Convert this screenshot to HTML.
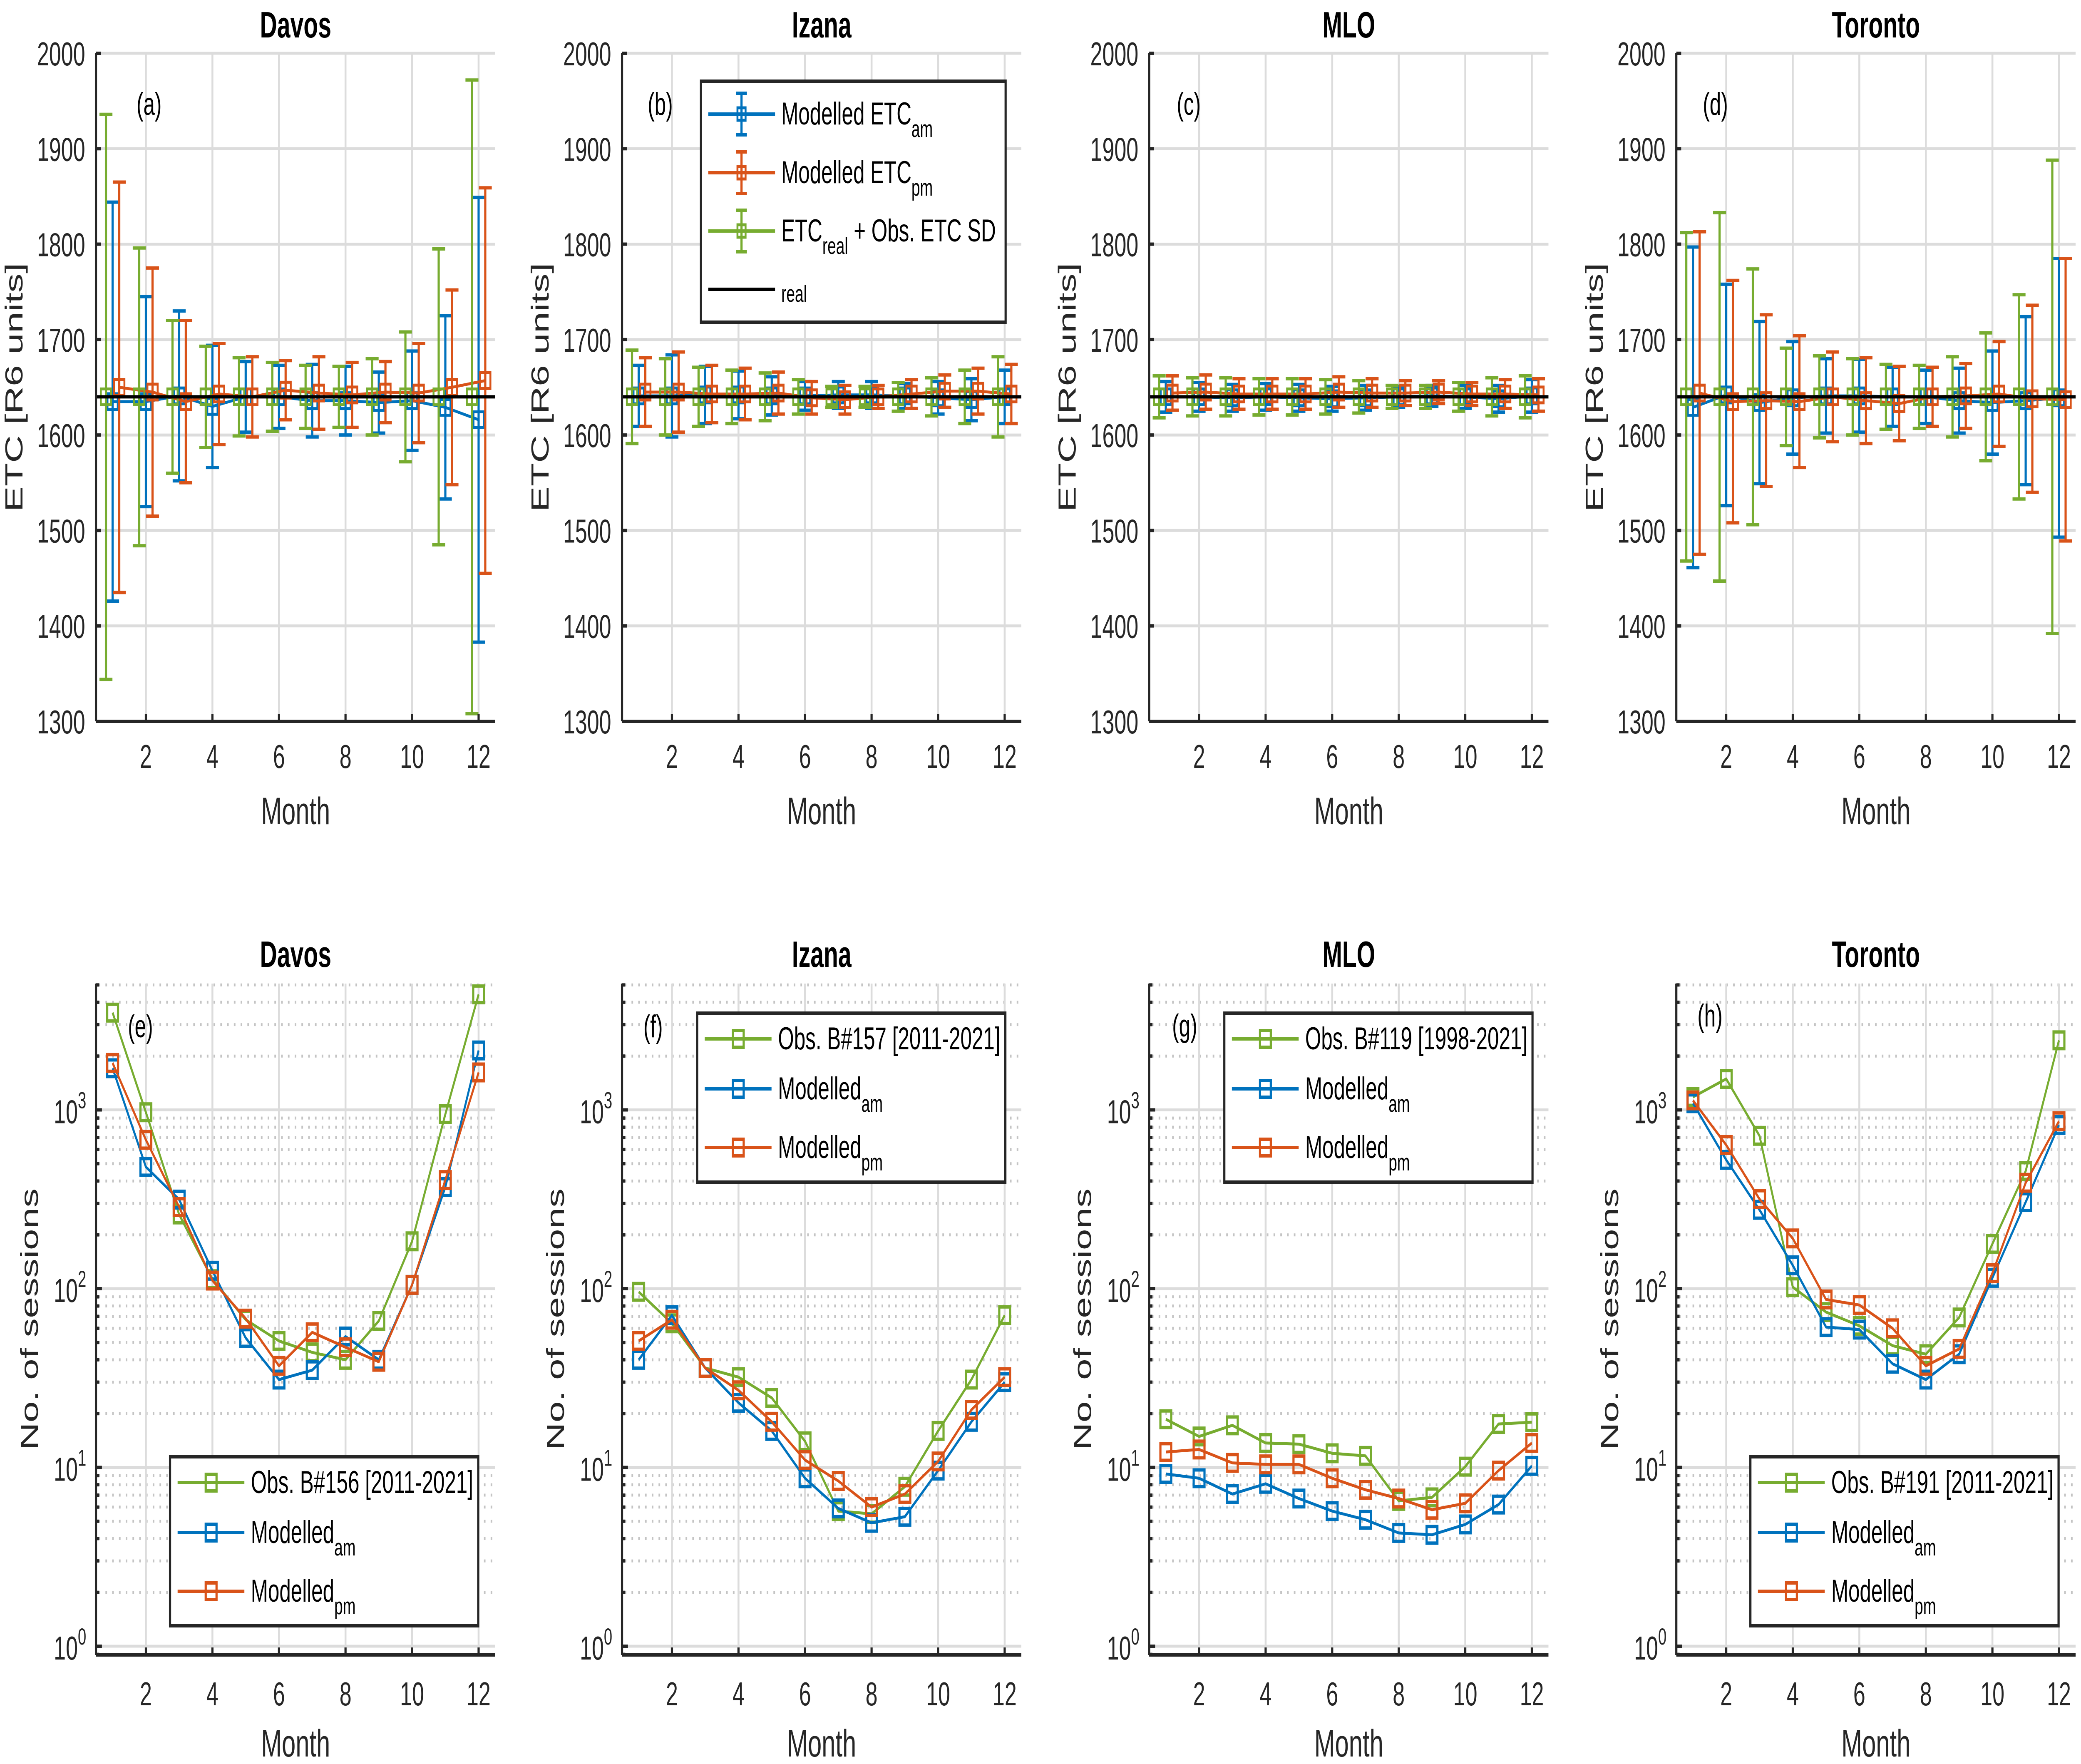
<!DOCTYPE html>
<html><head><meta charset="utf-8"><style>
html,body{margin:0;padding:0;background:#fff;overflow:hidden;}
svg{display:block;position:absolute;left:0;top:0;width:100vw;height:100vh;font-family:"Liberation Sans",Arial,sans-serif;}
</style></head>
<body>
<svg id="fig" xmlns="http://www.w3.org/2000/svg" viewBox="0 0 7698 4238" preserveAspectRatio="none"></svg>
<script>
// ---------- data ----------
const months = [1,2,3,4,5,6,7,8,9,10,11,12];
const etcReal = 1640;
const topTicks = [1300,1400,1500,1600,1700,1800,1900,2000];
const monthTicks = [2,4,6,8,10,12];
const stations = ['Davos','Izana','MLO','Toronto'];
const topLetters = ['(a)','(b)','(c)','(d)'];
const botLetters = ['(e)','(f)','(g)','(h)'];
const obsLabels = ['Obs. B#156 [2011-2021]','Obs. B#157 [2011-2021]','Obs. B#119 [1998-2021]','Obs. B#191 [2011-2021]'];

const davosObsSD = [296,156,80,53,41,36,33,32,40,68,155,332];
const davosAmMean = [1635,1635,1641,1630,1640,1640,1636,1636,1634,1636,1629,1616];
const davosAmErr = [209,110,89,64,37,33,38,36,32,52,96,233];
const davosPmMean = [1650,1645,1635,1643,1640,1647,1644,1642,1645,1644,1650,1657];
const davosPmErr = [215,130,85,53,42,31,38,34,32,52,102,202];

const izanaObsSD = [49,40,31,28,25,18,11,11,15,20,28,42];
const izanaAmMean = [1641,1641,1642,1642,1641,1641,1642,1642,1641,1639,1637,1640];
const izanaAmErr = [32,43,30,25,20,15,14,14,13,17,22,28];
const izanaPmMean = [1645,1645,1643,1643,1644,1639,1637,1640,1643,1646,1646,1643];
const izanaPmErr = [36,42,30,27,22,17,15,12,15,17,24,31];

const mloObsSD = [22,20,20,19,19,18,17,12,12,15,20,22];
const mloAmMean = [1640,1640,1639,1640,1639,1638,1639,1640,1641,1640,1638,1641];
const mloAmErr = [16,15,14,14,14,13,13,11,11,12,14,17];
const mloPmMean = [1644,1645,1643,1643,1643,1645,1644,1644,1645,1643,1643,1642];
const mloPmErr = [18,18,16,16,16,16,15,13,12,12,15,17];

const torontoObsSD = [172,193,134,51,43,40,34,33,42,67,107,248];
const torontoAmMean = [1629,1642,1634,1639,1641,1641,1640,1640,1636,1634,1636,1639];
const torontoAmErr = [168,116,85,59,39,38,31,28,34,54,88,146];
const torontoPmMean = [1644,1635,1636,1635,1640,1636,1633,1640,1641,1643,1638,1637];
const torontoPmErr = [169,127,90,69,47,45,39,31,34,55,98,148];

const davosObsN = [3500,970,260,113,67,51,44,40,66,184,946,4430];
const davosAmN = [1710,480,315,126,53,31,35,54,40,105,370,2150];
const davosPmN = [1830,680,286,111,68,37,57,47,39,105,405,1620];

const izanaObsN = [96,64,36,32,24.5,14,5.7,5.5,7.8,16,31,71];
const izanaAmN = [40,71,36,23,16,8.7,5.9,4.9,5.3,9.6,18,30];
const izanaPmN = [51,67,36,27,18,11,8.4,6,7.1,10.8,21,32];

const mloObsN = [18.6,14.9,17.2,13.7,13.5,12.0,11.6,6.5,6.8,10.1,17.5,17.9];
const mloAmN = [9.2,8.7,7.1,8.1,6.7,5.7,5.1,4.3,4.2,4.8,6.2,10.2];
const mloPmN = [12.2,12.6,10.6,10.4,10.4,8.7,7.5,6.7,5.8,6.3,9.6,13.7];

const torontoObsN = [1180,1490,716,102,74,62,48,43,69,178,455,2450];
const torontoAmN = [1090,525,276,135,61,59,38,31,43,115,305,823];
const torontoPmN = [1130,636,317,191,87,81,60,37,46,122,391,864];

const etcSets = [
  [davosObsSD,davosAmMean,davosAmErr,davosPmMean,davosPmErr],
  [izanaObsSD,izanaAmMean,izanaAmErr,izanaPmMean,izanaPmErr],
  [mloObsSD,mloAmMean,mloAmErr,mloPmMean,mloPmErr],
  [torontoObsSD,torontoAmMean,torontoAmErr,torontoPmMean,torontoPmErr]
];
const countSets = [
  [davosObsN,davosAmN,davosPmN],
  [izanaObsN,izanaAmN,izanaPmN],
  [mloObsN,mloAmN,mloPmN],
  [torontoObsN,torontoAmN,torontoPmN]
];

// ---------- layout ----------
const NS = 'http://www.w3.org/2000/svg';
const svg = document.getElementById('fig');
const BLUE='#0072BD', ORANGE='#D95319', GREEN='#77AC30', AX='#262626', GRID='#dcdcdc', MGRID='#c4c4c4';
const LEFTS = [355,2301,4251,6201];
const W = 1477;
const TT = 128, TB = 1733;
const BT = 2363, BB = 3976;
const LOG0 = 3955, DEC = 429.5;

function el(tag, attrs, parent, name){
  const e = document.createElementNS(NS, tag);
  for (const k in attrs) e.setAttribute(k, attrs[k]);
  
  
  parent.appendChild(e);
  return e;
}
function txt(x,y,s,size,parent,name,extra){
  const a = Object.assign({x:x,y:y,'font-size':size,fill:AX}, extra||{});
  const t = el('text', a, parent, name);
  t.textContent = s;
  return t;
}
function subText(x,y,main,sub,rest,size,parent,name){
  const t = el('text',{x:x,y:y,'font-size':size,fill:'#000'},parent,name);
  if (main){ const a=document.createElementNS(NS,'tspan'); a.textContent=main; t.appendChild(a); }
  if (sub){ const b=document.createElementNS(NS,'tspan'); b.setAttribute('dy','30'); b.setAttribute('font-size',size*0.75); b.textContent=sub; t.appendChild(b); }
  if (rest){ const c=document.createElementNS(NS,'tspan'); c.setAttribute('dy','-30'); c.textContent=' '+rest; t.appendChild(c); }
  return t;
}
function xScale(L){ return m => L + (m-0.5)/12*W; }
const yTop = v => TT + (2000 - v)/700*(TB-TT);
const yLog = v => LOG0 - Math.log10(v)*DEC;

function square(cx,cy,s,color,g,name,sw){
  el('rect',{x:cx-s/2,y:cy-s/2,width:s,height:s,fill:'none',stroke:color,'stroke-width':sw||7},g,name);
}
function polyline(xs,ys,color,g,name){
  let d='';
  for (let i=0;i<xs.length;i++) d += (i?'L':'M')+xs[i].toFixed(1)+' '+ys[i].toFixed(1);
  el('path',{d:d,fill:'none',stroke:color,'stroke-width':7,'stroke-linejoin':'round'},g,name);
}

function xAxis(g,L,bottom,labelY,monthY){
  const sx = xScale(L);
  el('line',{x1:L,y1:bottom,x2:L+W,y2:bottom,stroke:AX,'stroke-width':8},g,'x-axis-line');
  monthTicks.forEach(m=>{
    el('line',{x1:sx(m),y1:bottom,x2:sx(m),y2:bottom-18,stroke:AX,'stroke-width':8},g,'x-tick');
    txt(sx(m),labelY,String(m),80,g,'x-tick-label',{'text-anchor':'middle'});
  });
  txt(L+W/2,monthY,'Month',92,g,'x-axis-title',{'text-anchor':'middle'});
}

for (let p=0;p<4;p++){
  const L = LEFTS[p], sx = xScale(L);
  const g = el('g',{},svg,'etc-panel-'+stations[p].toLowerCase());
  const [sd,amM,amE,pmM,pmE] = etcSets[p];
  topTicks.forEach(v=>el('line',{x1:L,y1:yTop(v),x2:L+W,y2:yTop(v),stroke:GRID,'stroke-width':7},g,'y-grid-line'));
  monthTicks.forEach(m=>el('line',{x1:sx(m),y1:TT,x2:sx(m),y2:TB,stroke:GRID,'stroke-width':7},g,'x-grid-line'));
  const series = [
    {mean:amM, err:amE, off:0, c:BLUE, n:'modelled-am'},
    {mean:pmM, err:pmE, off:0.2, c:ORANGE, n:'modelled-pm'},
    {mean:months.map(()=>etcReal), err:sd, off:-0.2, c:GREEN, n:'etc-real-obs-sd'}
  ];
  series.forEach(s=>{
    const sg = el('g',{},g,s.n+'-series');
    const xs = months.map(m=>sx(m+s.off)), ys = s.mean.map(yTop);
    polyline(xs,ys,s.c,sg,s.n+'-line');
    months.forEach((m,i)=>{
      const x = xs[i], y1 = yTop(s.mean[i]+s.err[i]), y2 = yTop(s.mean[i]-s.err[i]);
      el('line',{x1:x,y1:y1,x2:x,y2:y2,stroke:s.c,'stroke-width':8},sg,s.n+'-errorbar');
      el('line',{x1:x-24,y1:y1,x2:x+24,y2:y1,stroke:s.c,'stroke-width':8},sg,s.n+'-cap');
      el('line',{x1:x-24,y1:y2,x2:x+24,y2:y2,stroke:s.c,'stroke-width':8},sg,s.n+'-cap');
      square(x,ys[i],38,s.c,sg,s.n+'-marker');
    });
  });
  el('line',{x1:L,y1:yTop(etcReal),x2:L+W,y2:yTop(etcReal),stroke:'#000','stroke-width':8},g,'etc-real-line');
  el('line',{x1:L,y1:TT,x2:L,y2:TB,stroke:AX,'stroke-width':8},g,'y-axis-line');
  topTicks.forEach(v=>{
    el('line',{x1:L,y1:yTop(v),x2:L+18,y2:yTop(v),stroke:AX,'stroke-width':8},g,'y-tick');
    txt(L-40,yTop(v)+29,String(v),80,g,'y-tick-label',{'text-anchor':'end'});
  });
  xAxis(g,L,TB,1845,1980);
  txt(L-304+32,(TT+TB)/2,'ETC [R6 units]',92,g,'y-axis-title',{'text-anchor':'middle',transform:'rotate(-90 '+(L-304+32)+' '+((TT+TB)/2)+')'});
  txt(L+W/2,90,stations[p],88,g,'panel-title',{'text-anchor':'middle','font-weight':'bold',fill:'#000'});
  const lx = [L+150,L+95,L+102,L+98][p];
  txt(lx,276,topLetters[p],76,g,'panel-letter',{fill:'#000'});
}

(function(){
  const L = LEFTS[1];
  const g = el('g',{},svg,'etc-legend');
  el('rect',{x:L+292,y:195,width:1127,height:579,fill:'#fff',stroke:AX,'stroke-width':8},g,'legend-box');
  const rows = [
    {y:274,c:BLUE,main:'Modelled ETC',sub:'am',rest:''},
    {y:415,c:ORANGE,main:'Modelled ETC',sub:'pm',rest:''},
    {y:555,c:GREEN,main:'ETC',sub:'real',rest:'+ Obs. ETC SD'},
    {y:695,c:'#000',main:'',sub:'real',rest:''}
  ];
  rows.forEach((r,i)=>{
    const x0=L+319, x1=L+566, xm=L+442;
    el('line',{x1:x0,y1:r.y,x2:x1,y2:r.y,stroke:r.c,'stroke-width':8},g,'legend-line');
    if (i<3){
      el('line',{x1:xm,y1:r.y-50,x2:xm,y2:r.y+50,stroke:r.c,'stroke-width':8},g,'legend-errorbar');
      el('line',{x1:xm-20,y1:r.y-50,x2:xm+20,y2:r.y-50,stroke:r.c,'stroke-width':8},g,'legend-cap');
      el('line',{x1:xm-20,y1:r.y+50,x2:xm+20,y2:r.y+50,stroke:r.c,'stroke-width':8},g,'legend-cap');
      square(xm,r.y,30,r.c,g,'legend-marker');
    }
    const t = subText(L+589,r.y+25,r.main,r.sub,r.rest,76,g,'legend-entry');
    if (i===3){ t.firstChild.setAttribute('dy','5'); }
  });
})();

for (let p=0;p<4;p++){
  const L = LEFTS[p], sx = xScale(L);
  const g = el('g',{},svg,'sessions-panel-'+stations[p].toLowerCase());
  const [obs,am,pm] = countSets[p];
  for (let k=-1;k<=3;k++) for (let j=2;j<=9;j++){
    const v = j*Math.pow(10,k), y = yLog(v);
    if (y < BT || y > BB) continue;
    el('line',{x1:L+10,y1:y,x2:L+W,y2:y,stroke:MGRID,'stroke-width':7,'stroke-dasharray':'6 19'},g,'y-minor-grid');
    el('line',{x1:L,y1:y,x2:L+12,y2:y,stroke:AX,'stroke-width':8},g,'y-minor-tick');
  }
  for (let k=0;k<=3;k++) el('line',{x1:L,y1:yLog(Math.pow(10,k)),x2:L+W,y2:yLog(Math.pow(10,k)),stroke:GRID,'stroke-width':7},g,'y-grid-line');
  monthTicks.forEach(m=>el('line',{x1:sx(m),y1:BT,x2:sx(m),y2:BB,stroke:GRID,'stroke-width':7},g,'x-grid-line'));
  const series = [
    {v:obs,c:GREEN,n:'observed-sessions'},
    {v:am,c:BLUE,n:'modelled-am-sessions'},
    {v:pm,c:ORANGE,n:'modelled-pm-sessions'}
  ];
  series.forEach(s=>{
    const sg = el('g',{},g,s.n+'-series');
    const xs = months.map(sx), ys = s.v.map(yLog);
    polyline(xs,ys,s.c,sg,s.n+'-line');
    months.forEach((m,i)=>square(xs[i],ys[i],40,s.c,sg,s.n+'-marker',8));
  });
  el('line',{x1:L,y1:BT,x2:L,y2:BB,stroke:AX,'stroke-width':8},g,'y-axis-line');
  for (let k=0;k<=3;k++){
    const y = yLog(Math.pow(10,k));
    el('line',{x1:L,y1:y,x2:L+22,y2:y,stroke:AX,'stroke-width':8},g,'y-tick');
    const t = el('text',{x:L-36,y:y+32,'font-size':80,fill:AX,'text-anchor':'end'},g,'y-tick-label');
    const a=document.createElementNS(NS,'tspan'); a.textContent='10'; t.appendChild(a);
    const b=document.createElementNS(NS,'tspan'); b.setAttribute('dy','-36'); b.setAttribute('font-size','56'); b.textContent=String(k); t.appendChild(b);
  }
  xAxis(g,L,BB,4097,4220);
  const yx = L-247+32, yc = (BT+BB)/2;
  txt(yx,yc,'No. of sessions',92,g,'y-axis-title',{'text-anchor':'middle',transform:'rotate(-90 '+yx+' '+yc+')'});
  txt(L+W/2,2323,stations[p],88,g,'panel-title',{'text-anchor':'middle','font-weight':'bold',fill:'#000'});
  const lx = [L+118,L+79,L+85,L+78][p];
  const ly = [2492,2492,2490,2466][p];
  txt(lx,ly,botLetters[p],76,g,'panel-letter',{fill:'#000'});
  const top = (p===1||p===2);
  const bx = L + (top?278:274), by = top?2434:3500;
  const lg = el('g',{},g,'sessions-legend');
  el('rect',{x:bx,y:by,width:1140,height:406,fill:'#fff',stroke:AX,'stroke-width':8},lg,'legend-box');
  const rowOff = [62,182,323];
  const entries = [[GREEN,obsLabels[p],''],[BLUE,'Modelled','am'],[ORANGE,'Modelled','pm']];
  entries.forEach((e,i)=>{
    const y = by + rowOff[i];
    el('line',{x1:bx+28,y1:y,x2:bx+275,y2:y,stroke:e[0],'stroke-width':8},lg,'legend-line');
    square(bx+152,y,40,e[0],lg,'legend-marker',8);
    subText(bx+299,y+25,e[1],e[2],'',76,lg,'legend-entry');
  });
}
</script>
</body></html>
